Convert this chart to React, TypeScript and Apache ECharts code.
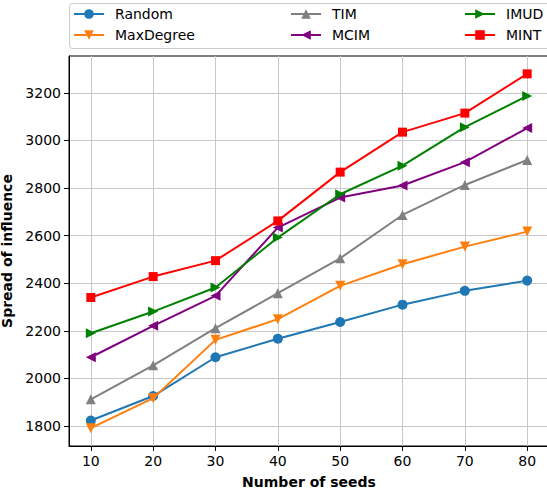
import React, { useEffect, useRef } from "react";
import * as echarts from "echarts";

const xValues = [10, 20, 30, 40, 50, 60, 70, 80];
const xTicks = [10, 20, 30, 40, 50, 60, 70, 80];
const yTicks = [1800, 2000, 2200, 2400, 2600, 2800, 3000, 3200];

const seriesNames = ["Random", "MaxDegree", "TIM", "MCIM", "IMUD", "MINT"];
const random = [1823, 1926, 2089, 2167, 2237, 2310, 2368, 2411];
const maxDegree = [1791, 1917, 2162, 2249, 2389, 2480, 2554, 2617];
const tim = [1912, 2055, 2211, 2358, 2505, 2687, 2813, 2918];
const mcim = [2089, 2221, 2347, 2634, 2760, 2811, 2909, 3052];
const imud = [2190, 2281, 2382, 2592, 2774, 2894, 3056, 3187];
const mint = [2340, 2428, 2495, 2662, 2867, 3035, 3115, 3280];

const colors = ["#1f77b4", "#ff7f0e", "#808080", "#800080", "#008000", "#ff0000"];
const symbols = ["circle", "triangle", "triangle", "triangle", "triangle", "rect"];
const rotations = [0, 180, 0, 90, -90, 0];

const FONT = "DejaVu Sans";

export default function App() {
  const ref = useRef<HTMLDivElement>(null);
  useEffect(() => {
    if (!ref.current) return;
    const chart = echarts.init(ref.current, undefined, { renderer: "svg" });
    const all = [random, maxDegree, tim, mcim, imud, mint];
    const series = all.map((arr, k) => ({
      name: seriesNames[k],
      type: "line",
      data: xValues.map((x, i) => [x, arr[i]]),
      symbol: symbols[k],
      symbolSize: k === 5 ? 9 : 10,
      symbolRotate: rotations[k],
      showAllSymbol: true,
      lineStyle: { color: colors[k], width: 2 },
      itemStyle: { color: colors[k] },
      z: 2 + k,
    }));
    const legendCommon = {
      orient: "vertical",
      top: 7,
      padding: 0,
      itemWidth: 30,
      itemHeight: 12,
      itemGap: 7,
      textStyle: { fontFamily: FONT, fontSize: 14, color: "#000", padding: [0, 0, 0, 6] },
      symbolRotate: "inherit",
    };
    chart.setOption({
      animation: false,
      backgroundColor: "#fff",
      textStyle: { fontFamily: FONT },
      graphic: [
        {
          type: "rect",
          z: 0,
          shape: { x: 69.5, y: 3.5, width: 490, height: 45, r: 3 },
          style: { fill: "#fff", stroke: "#cccccc", lineWidth: 1 },
        },
      ],
      legend: [
        { ...legendCommon, left: 73, data: ["Random", "MaxDegree"] },
        { ...legendCommon, left: 290, data: ["TIM", "MCIM"] },
        { ...legendCommon, left: 464, data: ["IMUD", "MINT"] },
      ],
      grid: {
        left: 69,
        top: 56,
        bottom: 46,
        right: -2,
        show: true,
        borderColor: "#000",
        borderWidth: 1,
        backgroundColor: "#fff",
        containLabel: false,
        outerBoundsMode: "none",
      },
      xAxis: {
        type: "value",
        min: 6.5,
        max: 83.5,
        name: "Number of seeds",
        nameLocation: "middle",
        nameGap: 29,
        nameTextStyle: { fontFamily: FONT, fontSize: 14, fontWeight: "bold", color: "#000" },
        axisLine: { show: true, lineStyle: { color: "#000", width: 1 } },
        axisTick: { show: true, length: 5, customValues: xTicks, lineStyle: { color: "#000" } },
        axisLabel: {
          customValues: xTicks,
          formatter: (v: number) => String(v),
          fontFamily: FONT,
          fontSize: 14,
          color: "#000",
          margin: 8,
        },
        splitLine: { show: true, lineStyle: { color: "#c8c8c8", width: 1 } },
      },
      yAxis: {
        type: "value",
        min: 1716,
        max: 3355,
        name: "Spread of influence",
        nameLocation: "middle",
        nameGap: 48,
        nameTextStyle: { fontFamily: FONT, fontSize: 14, fontWeight: "bold", color: "#000" },
        axisLine: { show: true, lineStyle: { color: "#000", width: 1 } },
        axisTick: { show: true, length: 5, customValues: yTicks, lineStyle: { color: "#000" } },
        axisLabel: {
          customValues: yTicks,
          formatter: (v: number) => String(v),
          fontFamily: FONT,
          fontSize: 14,
          color: "#000",
          margin: 8,
        },
        splitLine: { show: true, lineStyle: { color: "#c8c8c8", width: 1 } },
      },
      series,
    });
    return () => chart.dispose();
  }, []);
  return (
    <div
      ref={ref}
      style={{ position: "fixed", left: 0, top: 0, width: 547, height: 492 }}
    />
  );
}
